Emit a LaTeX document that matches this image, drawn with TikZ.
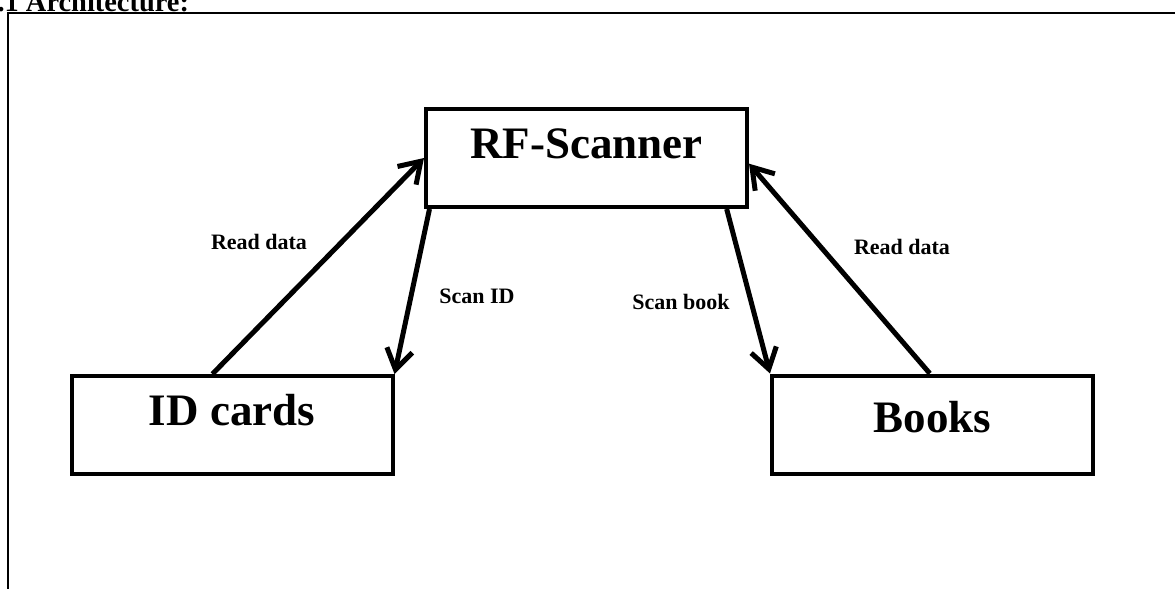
\documentclass[tikz,border=0pt]{standalone}
\usepackage{fontspec}
\setmainfont{Liberation Serif}
\usepackage{tikz}
\usetikzlibrary{positioning,arrows.meta}
\tikzstyle{block}=[draw, line width=2pt, inner sep=0pt, minimum width=160.5pt, text height=24.5pt, text depth=24.5pt, font=\bfseries\fontsize{22.5}{27}\selectfont]
\tikzstyle{link}=[->, line width=2.5pt]
\tikzstyle{lbl}=[inner sep=1pt, font=\bfseries\fontsize{11}{13}\selectfont]

\begin{document}
\begin{tikzpicture}[x=0.5pt, y=-0.5pt, >={Straight Barb[length=10pt, width=13pt]}]
        \useasboundingbox (0,0) rectangle (1175,589);

        % frame and heading
        \node[anchor=base west, inner sep=0pt, font=\bfseries\fontsize{14.2}{16}\selectfont] (heading) at (-17,11) {4.1 Architecture:};
        \draw[line width=1.4pt] (8,600) -- (8,13) -- (1185,13);

        \node[block] (rf) at (586.5,158) {RF-Scanner};
        \node[block] (idcards) at (232,425) {ID cards};
        \node[block, text height=28.25pt, text depth=20.75pt] (books) at (932.5,424.5) {Books};

        \draw[link] (idcards.111.8) -- (rf.west);
        \draw[link] (rf.198.5) -- (idcards.north east);
        \draw[link] (rf.340.9) -- (books.north west);
        \draw[link] (books.93) -- (rf.-2.5);

        \node[lbl] (readid) at (259,242) {Read data};
        \node[lbl] (scanid) at (477,296) {Scan ID};
        \node[lbl] (scanbook) at (681,302) {Scan book};
        \node[lbl] (readbook) at (902,247) {Read data};
    \end{tikzpicture}
\end{document}
